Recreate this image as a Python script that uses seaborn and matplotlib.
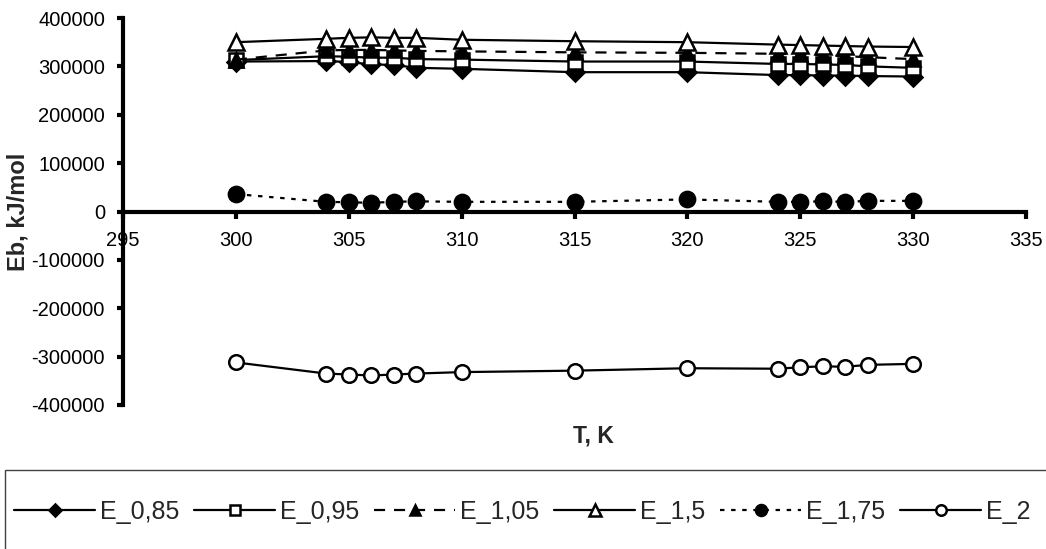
import numpy as np
import pandas as pd
import matplotlib
matplotlib.use("Agg")
import matplotlib.pyplot as plt
from matplotlib.patches import Rectangle
import seaborn as sns

T = [300, 304, 305, 306, 307, 308, 310, 315, 320, 324, 325, 326, 327, 328, 330]

E_085 = [310000, 311000, 309000, 304000, 303000, 297000, 295000, 288000, 288000, 282000, 282000, 281000, 281000, 280000, 279000]
E_095 = [313000, 321000, 320000, 318000, 318000, 315000, 314000, 310000, 310000, 305000, 305000, 304000, 303000, 300000, 297000]
E_105 = [314000, 333000, 334000, 334000, 333000, 332000, 331000, 329000, 328000, 326000, 325000, 323000, 321000, 319000, 315000]
E_15 = [350000, 357000, 359000, 360000, 359000, 359000, 355000, 352000, 350000, 345000, 344000, 343000, 342000, 341000, 340000]
E_175 = [36000, 20000, 19000, 18000, 20000, 21000, 20000, 20000, 25000, 20000, 20000, 21000, 20000, 22000, 22000]
E_2 = [-312000, -335000, -337000, -339000, -337000, -335000, -332000, -329000, -324000, -325000, -322000, -320000, -321000, -317000, -315000]

labels = ["E_0,85", "E_0,95", "E_1,05", "E_1,5", "E_1,75", "E_2"]
series = [E_085, E_095, E_105, E_15, E_175, E_2]

xticks = [295, 300, 305, 310, 315, 320, 325, 330, 335]
yticks = [-400000, -300000, -200000, -100000, 0, 100000, 200000, 300000, 400000]

styles = [
    dict(marker="D", markersize=9, markerfacecolor="black", linestyle="-"),
    dict(marker="s", markersize=9.5, markerfacecolor="white", linestyle="-"),
    dict(marker="^", markersize=10.5, markerfacecolor="black", linestyle=(0, (5, 4))),
    dict(marker="^", markersize=11.5, markerfacecolor="white", linestyle="-"),
    dict(marker="o", markersize=11, markerfacecolor="black", linestyle=(0, (2, 3))),
    dict(marker="o", markersize=10.5, markerfacecolor="white", linestyle="-"),
]

sns.set_style("white")
plt.rcParams["font.family"] = ["Liberation Sans", "DejaVu Sans"]

fig = plt.figure(figsize=(10.46, 5.49), dpi=100)
ax = fig.add_axes([123 / 1046, 1 - 405 / 549, (1026 - 123) / 1046, (405 - 18) / 549])

for lab, vals, st in zip(labels, series, styles):
    df = pd.DataFrame({"T": T, "E": vals})
    sns.lineplot(data=df, x="T", y="E", ax=ax, color="black", linewidth=1.6,
                 markeredgecolor="black", markeredgewidth=1.8, label=lab, **st)

if ax.get_legend() is not None:
    ax.get_legend().remove()

ax.set_xlim(295, 335)
ax.set_ylim(-400000, 400000)
ax.set_xticks(xticks)
ax.set_yticks(yticks)
ax.set_xticklabels([str(v) for v in xticks])
ax.set_yticklabels([str(v) for v in yticks])

for s in ["top", "right"]:
    ax.spines[s].set_visible(False)
ax.spines["bottom"].set_position(("data", 0))
ax.spines["left"].set_position(("data", 295))
for s in ["bottom", "left"]:
    ax.spines[s].set_linewidth(3)
    ax.spines[s].set_color("black")

ax.tick_params(axis="both", which="major", direction="out", width=3, color="black",
               labelsize=14.5, labelcolor="black")
ax.tick_params(axis="x", length=5, pad=9, bottom=True)
ax.tick_params(axis="y", length=4, pad=9, left=True)

ax.set_xlabel("T, K", fontsize=16.5, fontweight="bold")
ax.set_ylabel("Eb, kJ/mol", fontsize=17, fontweight="bold")
ax.xaxis.set_label_coords((593 - 123) / 903, -0.05)
ax.yaxis.set_label_coords(-0.104, 0.5)
ax.grid(False)

handles, labs = ax.get_legend_handles_labels()
leg = fig.legend(handles, labs, loc="center left", bbox_to_anchor=(14 / 1046, 1 - 512 / 549),
                 ncol=6, frameon=False, handlelength=3.25, handletextpad=0.2,
                 columnspacing=0.58, borderpad=0, borderaxespad=0, markerscale=0.72,
                 prop={"family": ["Liberation Sans", "DejaVu Sans"], "size": 18})

fig.patches.append(Rectangle((5 / 1046, -0.05), 1.1, (549 - 470) / 549 + 0.05,
                             transform=fig.transFigure, fill=False, edgecolor="#404040",
                             linewidth=1.0))

fig.savefig("out.png", dpi=100)
